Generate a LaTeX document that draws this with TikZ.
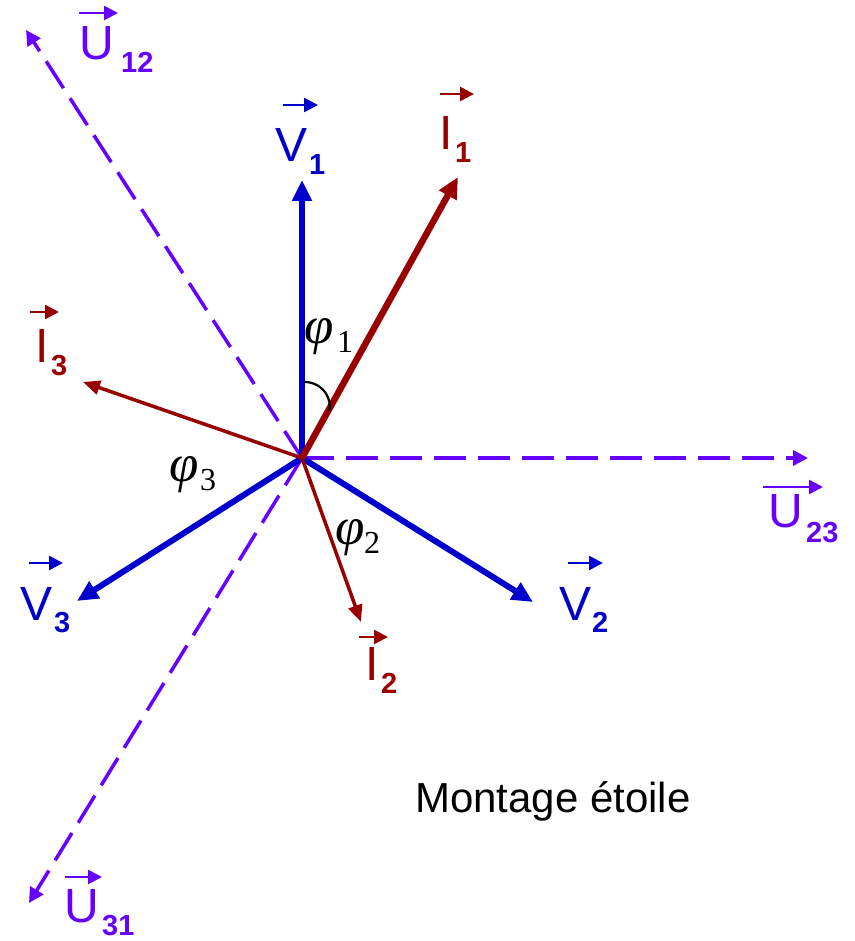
\documentclass[tikz,border=0pt]{standalone}
\usepackage{fontspec}
\setmainfont{Liberation Sans}
\newfontfamily\phiserif{Liberation Serif}
\usetikzlibrary{arrows.meta}
\definecolor{vblue}{RGB}{0,0,204}
\definecolor{ired}{RGB}{153,0,0}
\definecolor{upurple}{RGB}{102,0,255}
\begin{document}
\begin{tikzpicture}[x=1pt,y=-1pt,
  vvec/.style={vblue, line width=6pt, -{Triangle[length=21pt,width=19pt]}},
  ibig/.style={ired, line width=6.5pt, -{Triangle[length=21pt,width=19pt]}},
  ismall/.style={ired, line width=3.5pt, -{Triangle[length=17pt,width=14pt]}},
  uvec/.style={upurple, line width=3.5pt, dash pattern=on 32pt off 12pt, -{Triangle[length=15pt,width=15pt]}},
  ovr/.style={line width=2.6pt, -{Triangle[length=14pt,width=14pt]}},
  letter/.style={inner sep=0pt, anchor=base west, font=\fontsize{48}{50}\selectfont},
  subs/.style={inner sep=0pt, anchor=base west, font=\fontsize{29}{31}\selectfont\bfseries},
  phil/.style={inner sep=0pt, anchor=base west, font=\phiserif\itshape\fontsize{53}{55}\selectfont},
  phisub/.style={inner sep=0pt, anchor=base west, font=\phiserif\fontsize{32}{34}\selectfont},
  anglemark/.style={black, line width=2.2pt}
]
\useasboundingbox (0,0) rectangle (854,941);

% origin and tips
\coordinate (O) at (302,458);
\coordinate (V1t) at (302,180);
\coordinate (V2t) at (533,602);
\coordinate (V3t) at (77,601);
\coordinate (I1t) at (458,177);
\coordinate (I2t) at (361,622);
\coordinate (I3t) at (83,382);
\coordinate (U12t) at (26,30);
\coordinate (U23t) at (808,458);
\coordinate (U31t) at (29,903);

% dashed line voltages
\draw[uvec] (O) -- (U12t);
\draw[uvec] (O) -- (U23t);
\draw[uvec] (O) -- (U31t);

% simple voltages
\draw[vvec] (O) -- (V1t);
\draw[vvec] (O) -- (V2t);
\draw[vvec] (O) -- (V3t);

% currents
\draw[ismall] (O) -- (I3t);
\draw[ismall] (O) -- (I2t);
\draw[ibig] (O) -- (I1t);

% angle mark phi1
\coordinate (arcA) at (304,382);
\draw[anglemark] (arcA) arc[start angle=-92, end angle=9, radius=25];

% labels V
\node[letter, text=vblue] (V1L) at (275,162) {V};
\node[subs, text=vblue] (V1s) at (309,175) {1};
\draw[ovr, vblue] (283,105) -- (318,105);

\node[letter, text=vblue] (V2L) at (559,620) {V};
\node[subs, text=vblue] (V2s) at (592,632) {2};
\draw[ovr, vblue] (568,563) -- (603,563);

\node[letter, text=vblue] (V3L) at (20,620) {V};
\node[subs, text=vblue] (V3s) at (54,632) {3};
\draw[ovr, vblue] (29,563) -- (63,563);

% labels I
\node[letter, text=ired] (I1L) at (439,150) {I};
\node[subs, text=ired] (I1s) at (455,163) {1};
\draw[ovr, ired] (440,94) -- (474,94);

\node[letter, text=ired] (I2L) at (365,680) {I};
\node[subs, text=ired] (I2s) at (381,693) {2};
\draw[ovr, ired] (359,637) -- (388,637);

\node[letter, text=ired] (I3L) at (35,362) {I};
\node[subs, text=ired] (I3s) at (51,375) {3};
\draw[ovr, ired] (30,312) -- (59,312);

% labels U
\node[letter, text=upurple] (U12L) at (79,60) {U};
\node[subs, text=upurple] (U12s) at (121,73) {12};
\draw[ovr, upurple] (79,13) -- (118,13);

\node[letter, text=upurple] (U23L) at (768,527) {U};
\node[subs, text=upurple] (U23s) at (806,542) {23};
\draw[ovr, upurple] (763,487) -- (823,487);

\node[letter, text=upurple] (U31L) at (64,922) {U};
\node[subs, text=upurple] (U31s) at (102,935) {31};
\draw[ovr, upurple] (65,877) -- (102,877);

% phase angles
\node[phil] (phi1) at (304,343) {φ};
\node[phisub] (phi1s) at (337,352) {1};
\node[phil] (phi2) at (335,544) {φ};
\node[phisub] (phi2s) at (364,553) {2};
\node[phil] (phi3) at (169,481) {φ};
\node[phisub] (phi3s) at (200,490) {3};

% caption
\node[inner sep=0pt, anchor=base west, font=\fontsize{42}{44}\selectfont] (cap) at (415,812) {Montage étoile};
\end{tikzpicture}
\end{document}
